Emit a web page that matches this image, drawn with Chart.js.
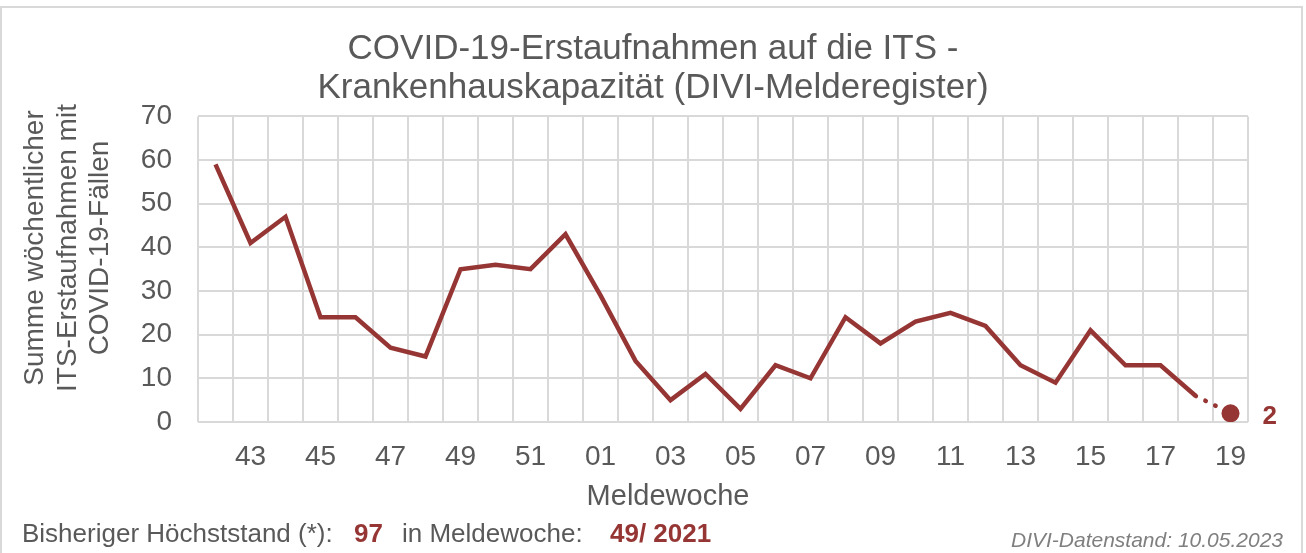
<!DOCTYPE html>
<html>
<head>
<meta charset="utf-8">
<script src="https://cdn.jsdelivr.net/npm/chart.js@4/dist/chart.umd.min.js"></script>
<style>
  html, body { margin: 0; padding: 0; background: #ffffff; }
  canvas { display: block; }
</style>
</head>
<body>
<canvas id="c" width="1306" height="553"></canvas>
<script>
// ---- data ----
const weeks = ['42','43','44','45','46','47','48','49','50','51','52',
               '01','02','03','04','05','06','07','08','09','10',
               '11','12','13','14','15','16','17','18','19'];
const admissions = [59,41,47,24,24,17,15,35,36,35,43,
                    29,14,5,11,3,13,10,24,18,23,
                    25,22,13,9,21,13,13,6,2];
const yTicks = [0,10,20,30,40,50,60,70];
const titleLines = ['COVID-19-Erstaufnahmen auf die ITS -', 'Krankenhauskapazität (DIVI-Melderegister)'];
const yTitleLines = ['Summe wöchentlicher', 'ITS-Erstaufnahmen mit', 'COVID-19-Fällen'];
const xTitle = 'Meldewoche';
const footerLabel1 = 'Bisheriger Höchststand (*):';
const footerPeak = '97';
const footerLabel2 = 'in Meldewoche:';
const footerPeakWeek = '49/ 2021';
const footerDate = 'DIVI-Datenstand: 10.05.2023';

const RED = '#963634';
const GREY = '#595959';
const GRID = '#d9d9d9';
const FONT = '"Liberation Sans", Arial, sans-serif';
const last = admissions.length - 1;

const decor = {
  id: 'decor',
  beforeDraw(chart) {
    const ctx = chart.ctx;
    ctx.save();
    ctx.strokeStyle = GRID;
    ctx.lineWidth = 2;
    ctx.strokeRect(1, 7, 1301, 600);
    ctx.restore();
  },
  afterDraw(chart) {
    const ctx = chart.ctx;
    ctx.save();
    ctx.fillStyle = GREY;
    // y axis title (rotated)
    ctx.font = '28px ' + FONT;
    ctx.textAlign = 'center';
    ctx.textBaseline = 'alphabetic';
    const baseX = [43, 76, 108];
    yTitleLines.forEach((t, i) => {
      ctx.save();
      ctx.translate(baseX[i], 248);
      ctx.rotate(-Math.PI / 2);
      ctx.fillText(t, 0, 0);
      ctx.restore();
    });
    // x axis title
    ctx.font = '29px ' + FONT;
    ctx.fillText(xTitle, 668, 505);
    // footer
    ctx.textAlign = 'left';
    ctx.font = '26px ' + FONT;
    ctx.fillStyle = GREY;
    ctx.fillText(footerLabel1, 22, 542);
    ctx.fillText(footerLabel2, 402, 542);
    ctx.font = 'bold 26px ' + FONT;
    ctx.fillStyle = RED;
    ctx.fillText(footerPeak, 354, 542);
    ctx.fillText(footerPeakWeek, 610, 542);
    ctx.textAlign = 'right';
    ctx.font = 'italic 21px ' + FONT;
    ctx.fillStyle = '#7f7f7f';
    ctx.fillText(footerDate, 1283, 547);
    // label for last value
    const meta = chart.getDatasetMeta(0);
    const pt = meta.data[last];
    ctx.textAlign = 'left';
    ctx.textBaseline = 'alphabetic';
    ctx.font = 'bold 26px ' + FONT;
    ctx.fillStyle = RED;
    ctx.fillText(String(admissions[last]), pt.x + 32, pt.y + 11);
    ctx.restore();
  }
};

new Chart(document.getElementById('c'), {
  type: 'line',
  data: {
    labels: weeks,
    datasets: [{
      data: admissions,
      borderColor: RED,
      backgroundColor: RED,
      borderWidth: 4.5,
      borderJoinStyle: 'miter',
      tension: 0,
      pointRadius: ctx => ctx.dataIndex === last ? 9 : 0,
      pointHoverRadius: ctx => ctx.dataIndex === last ? 9 : 0,
      pointBackgroundColor: RED,
      pointBorderColor: RED,
      pointBorderWidth: 0,
      segment: {
        borderDash: ctx => ctx.p1DataIndex === last ? [0.5, 10.5] : undefined,
        borderCapStyle: ctx => ctx.p1DataIndex === last ? 'round' : 'butt'
      }
    }]
  },
  options: {
    responsive: false,
    animation: false,
    devicePixelRatio: 1,
    layout: { padding: 0 },
    events: [],
    plugins: {
      legend: { display: false },
      tooltip: { enabled: false },
      title: {
        display: true,
        text: titleLines,
        color: GREY,
        font: { family: FONT, size: 35, weight: 'normal', lineHeight: 1.12 },
        padding: { top: 30, bottom: 8 }
      }
    },
    scales: {
      x: {
        offset: true,
        grid: { offset: true, color: GRID, lineWidth: 2, drawTicks: false },
        border: { display: false },
        ticks: {
          autoSkip: false,
          maxRotation: 0,
          minRotation: 0,
          padding: 18,
          color: GREY,
          font: { family: FONT, size: 28 },
          callback: function (val, idx) { return idx % 2 === 1 ? weeks[idx] : ''; }
        },
        afterFit: s => { s.height = 131; }
      },
      y: {
        min: 0,
        max: 70,
        afterBuildTicks: s => { s.ticks = yTicks.map(v => ({ value: v })); },
        grid: { color: GRID, lineWidth: 2, drawTicks: false },
        border: { display: false },
        ticks: {
          padding: 26,
          color: GREY,
          font: { family: FONT, size: 28 }
        },
        afterFit: s => { s.width = 198; }
      },
      y2: {
        position: 'right',
        display: true,
        grid: { display: false, drawTicks: false },
        border: { display: false },
        ticks: { display: false },
        afterFit: s => { s.width = 58; }
      }
    }
  },
  plugins: [decor]
});
</script>
</body>
</html>
